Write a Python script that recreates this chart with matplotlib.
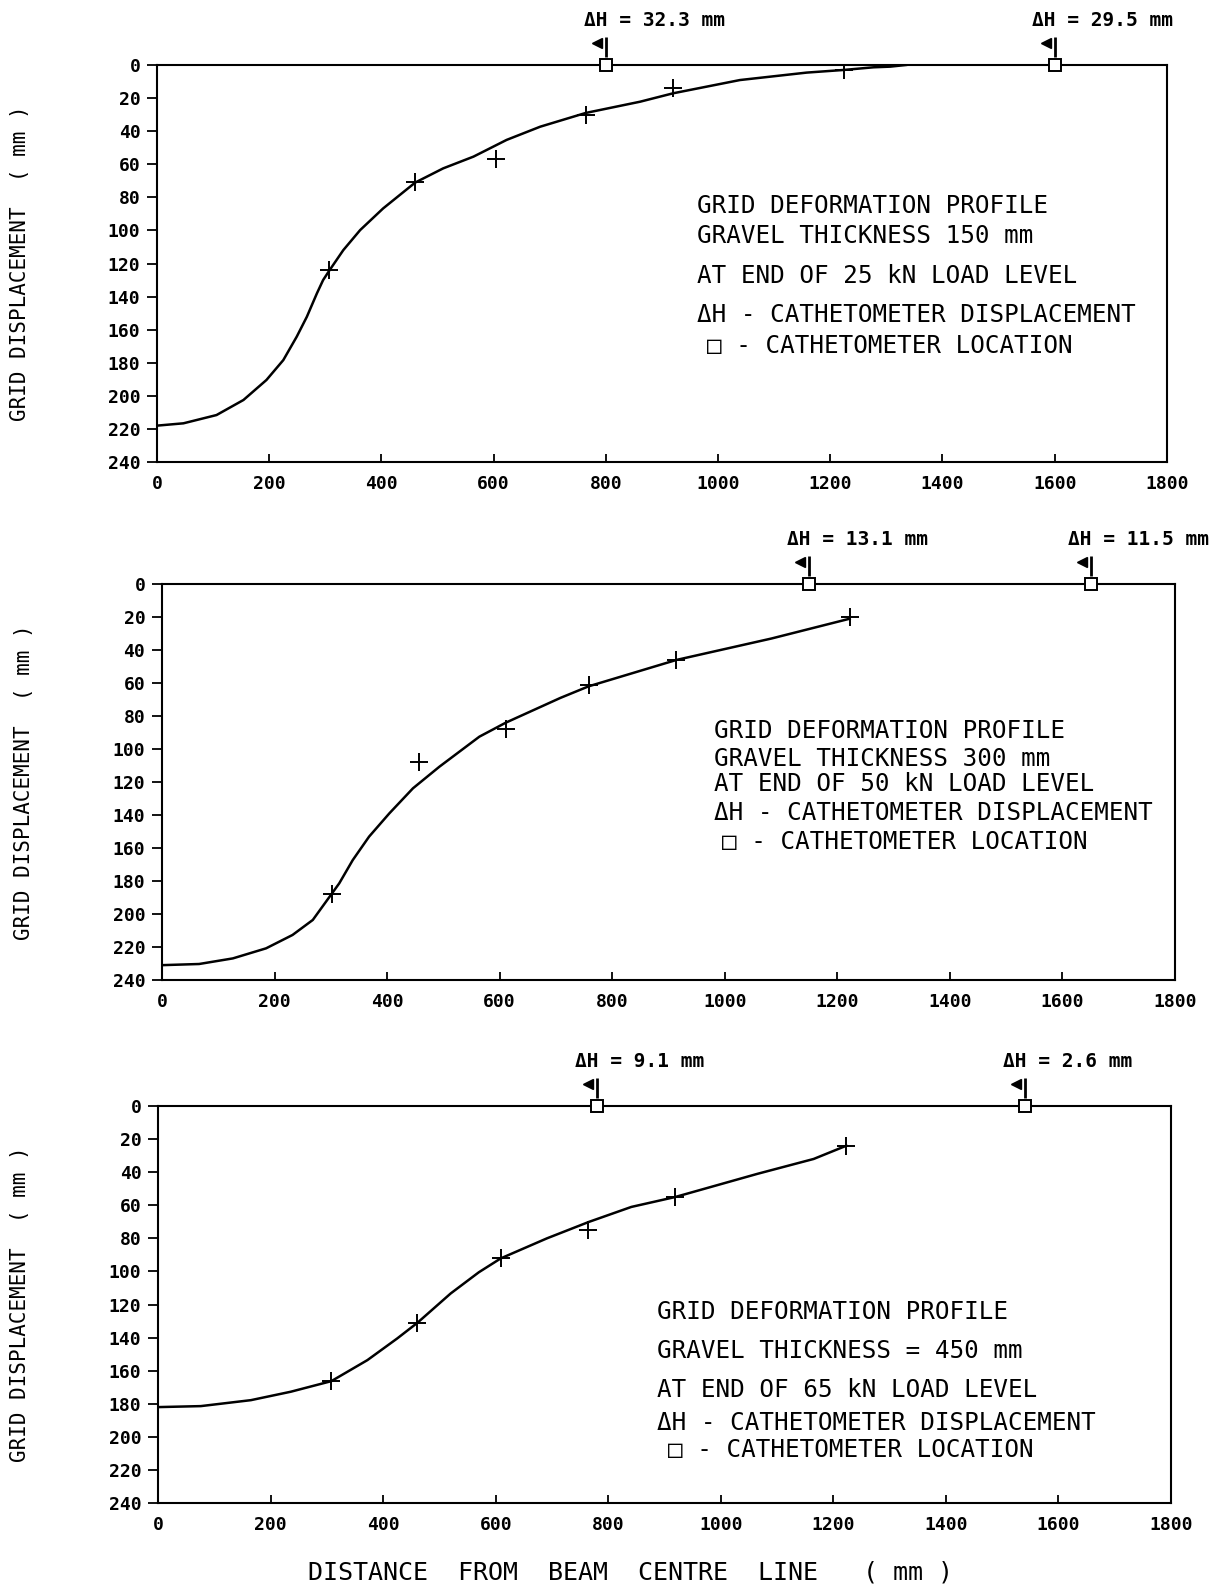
import matplotlib
matplotlib.use("Agg")
import matplotlib.pyplot as plt
from matplotlib.transforms import blended_transform_factory, offset_copy

# Axis ticks shared by all three panels
x_ticks = [0, 200, 400, 600, 800, 1000, 1200, 1400, 1600, 1800]
y_ticks = [0, 20, 40, 60, 80, 100, 120, 140, 160, 180, 200, 220, 240]

# Panel 1 : gravel 150 mm, 25 kN
p1_pts_x = [307, 460, 605, 764, 920, 1224]
p1_pts_y = [124, 71, 57, 30, 14, 3]
p1_curve_x = [0, 47, 106, 154, 195, 225, 249, 267, 285, 296, 307, 332, 362, 403, 460,
              510, 564, 623, 683, 764, 861, 920, 1039, 1158, 1224, 1277, 1307, 1335]
p1_curve_y = [218, 216.6, 211.6, 202.5, 190.4, 178.4, 164.2, 152.2, 138, 130, 124.3, 111.9,
              99.8, 86.7, 71.1, 62.5, 55.4, 45.3, 37.3, 29, 22.2, 17.1, 9.1, 4.6, 3, 1.4, 1, 0]
p1_cath_x = [800, 1600]
p1_dh = ["32.3", "29.5"]
p1_notes = ["GRID DEFORMATION PROFILE", "GRAVEL THICKNESS 150 mm",
            "AT END OF 25 kN LOAD LEVEL"]

# Panel 2 : gravel 300 mm, 50 kN
p2_pts_x = [302, 456, 611, 758, 914, 1222]
p2_pts_y = [188, 108, 88, 61, 46, 20]
p2_curve_x = [0, 66, 126, 185, 232, 268, 300, 315, 339, 368, 404, 446, 493, 564, 611,
              708, 758, 914, 1083, 1222]
p2_curve_y = [231, 230.3, 226.9, 220.8, 212.7, 203.6, 188.5, 181.4, 167.3, 153.1, 139,
              123.8, 110.7, 92.5, 84, 69, 62, 46, 33, 21]
p2_cath_x = [1150, 1650]
p2_dh = ["13.1", "11.5"]
p2_notes = ["GRID DEFORMATION PROFILE", "GRAVEL THICKNESS 300 mm",
            "AT END OF 50 kN LOAD LEVEL"]

# Panel 3 : gravel 450 mm, 65 kN
p3_pts_x = [308, 461, 609, 764, 919, 1223]
p3_pts_y = [166, 131, 92, 75, 55, 24]
p3_curve_x = [0, 76, 165, 236, 308, 372, 425, 461, 520, 570, 609, 691, 766, 841, 919,
              1065, 1165, 1223]
p3_curve_y = [182, 181.4, 177.8, 172.7, 166.3, 153.6, 140.5, 131, 113.3, 100.5, 92.1,
              80, 70, 61, 55, 41, 32, 24]
p3_cath_x = [780, 1540]
p3_dh = ["9.1", "2.6"]
p3_notes = ["GRID DEFORMATION PROFILE", "GRAVEL THICKNESS = 450 mm",
            "AT END OF 65 kN LOAD LEVEL"]

legend_dh = "ΔH - CATHETOMETER DISPLACEMENT"
legend_box = "□ - CATHETOMETER LOCATION"

mono = "DejaVu Sans Mono"
plt.rcParams["font.family"] = [mono, "DejaVu Sans"]

fig = plt.figure(figsize=(12.27, 15.85), dpi=100)

panels = [
    dict(rect=[0.128, 0.7085, 0.823, 0.2505], px=p1_pts_x, py=p1_pts_y,
         cx=p1_curve_x, cy=p1_curve_y, cath=p1_cath_x, dh=p1_dh, notes=p1_notes,
         nx=0.535, ny=[0.645, 0.569, 0.469, 0.370, 0.293], bx=0.545),
    dict(rect=[0.132, 0.3817, 0.8256, 0.2498], px=p2_pts_x, py=p2_pts_y,
         cx=p2_curve_x, cy=p2_curve_y, cath=p2_cath_x, dh=p2_dh, notes=p2_notes,
         nx=0.545, ny=[0.628, 0.557, 0.494, 0.422, 0.349], bx=0.553),
    dict(rect=[0.1288, 0.0517, 0.8256, 0.2505], px=p3_pts_x, py=p3_pts_y,
         cx=p3_curve_x, cy=p3_curve_y, cath=p3_cath_x, dh=p3_dh, notes=p3_notes,
         nx=0.493, ny=[0.480, 0.383, 0.284, 0.202, 0.133], bx=0.503),
]

for i, p in enumerate(panels):
    ax = fig.add_axes(p["rect"])
    ax.plot(p["cx"], p["cy"], color="black", lw=1.8)
    ax.plot(p["px"], p["py"], ls="none", marker="+", ms=13, mew=1.4, color="black")

    ax.set_xlim(0, 1800)
    ax.set_ylim(240, 0)
    ax.set_xticks(x_ticks)
    ax.set_yticks(y_ticks)
    ax.set_xticklabels([str(v) for v in x_ticks], fontsize=13, fontweight="bold")
    ax.set_yticklabels([str(v) for v in y_ticks], fontsize=13, fontweight="bold")
    ax.tick_params(axis="x", direction="in", length=6, width=1.3, pad=9)
    ax.tick_params(axis="y", direction="out", length=7, width=1.3, pad=5)
    for s in ax.spines.values():
        s.set_linewidth(1.5)

    ax.set_ylabel("GRID DISPLACEMENT  ( mm )", fontsize=15)
    ax.yaxis.set_label_coords(-0.126, 0.5)

    # cathetometer locations on the top edge, with flags and readings
    trans = blended_transform_factory(ax.transData, ax.transAxes)
    ax.plot(p["cath"], [1] * len(p["cath"]), ls="none", marker="s", ms=8,
            mfc="white", mec="black", mew=1.4, transform=trans, clip_on=False, zorder=5)
    bar_tr = offset_copy(trans, fig=fig, x=0, y=18, units="dots")
    ax.plot(p["cath"], [1] * len(p["cath"]), ls="none", marker="|", ms=14, mew=2,
            color="black", transform=bar_tr, clip_on=False)
    tri_tr = offset_copy(trans, fig=fig, x=-9, y=22, units="dots")
    ax.plot(p["cath"], [1] * len(p["cath"]), ls="none", marker="<", ms=7,
            color="black", transform=tri_tr, clip_on=False)
    for xc, v in zip(p["cath"], p["dh"]):
        ax.annotate(f"ΔH = {v} mm", xy=(xc, 1), xycoords=trans,
                    xytext=(-16, 32), textcoords="offset points",
                    ha="left", va="center", fontsize=14, fontweight="semibold",
                    annotation_clip=False)

    # notes block
    lines = p["notes"] + [legend_dh]
    for txt, yy in zip(lines, p["ny"][:4]):
        ax.text(p["nx"], yy, txt, transform=ax.transAxes, fontsize=17.5,
                ha="left", va="center")
    ax.text(p["bx"], p["ny"][4], legend_box, transform=ax.transAxes, fontsize=17.5,
            ha="left", va="center")

fig.text(0.514, 0.008, "DISTANCE  FROM  BEAM  CENTRE  LINE   ( mm )",
         ha="center", va="center", fontsize=18)

fig.savefig("out.png", dpi=100)
